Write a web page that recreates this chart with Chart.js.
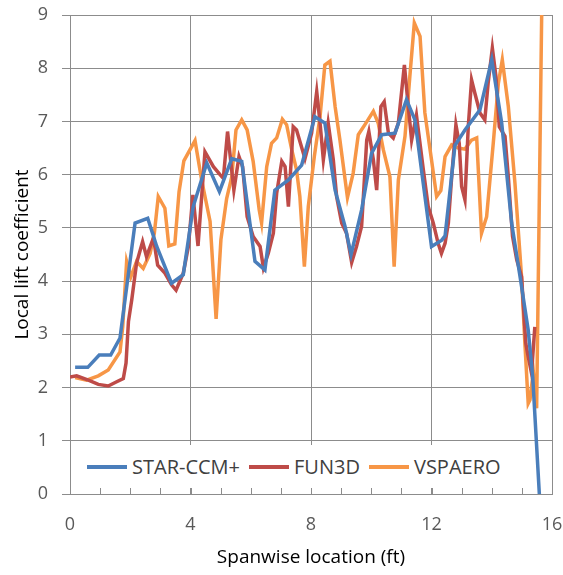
<!DOCTYPE html>
<html>
<head>
<meta charset="utf-8">
<script src="https://cdn.jsdelivr.net/npm/chart.js@4.4.1/dist/chart.umd.min.js"></script>
<style>
  html, body { margin: 0; padding: 0; background: #fff; }
  #wrap { position: relative; width: 563px; height: 575px; overflow: hidden; }
  #legend {
    position: absolute; left: 84px; top: 445px; width: 425px; height: 43px;
    background: #fff; display: flex; align-items: center; padding-left: 3px; box-sizing: border-box;
    font-family: "Open Sans", sans-serif; font-size: 20px; color: #404040; white-space: nowrap;
  }
  #legend .item { display: flex; align-items: center; margin-right: 9px; flex-shrink: 0; }
  #legend .swatch { width: 40px; height: 4px; margin-right: 5px; flex-shrink: 0; }
</style>
</head>
<body>
<div id="wrap">
  <canvas id="chart" width="563" height="575"></canvas>
  <div id="legend"></div>
</div>
<script>
// Datos (ft, coeficiente de sustentación local)
const starX = [0.17, 0.59, 0.97, 1.35, 1.66, 2.16, 2.58, 2.88, 3.37, 3.76, 4.09, 4.54, 4.96, 5.37, 5.70, 6.14, 6.47, 6.80, 7.25, 7.69, 8.13, 8.46, 8.80, 9.13, 9.33, 9.68, 10.01, 10.35, 10.79, 11.17, 11.45, 12.00, 12.34, 12.45, 12.78, 13.11, 13.61, 14.00, 14.33, 14.66, 14.94, 15.21, 15.36, 15.58];
const starY = [2.38, 2.38, 2.61, 2.61, 2.93, 5.09, 5.18, 4.65, 3.96, 4.12, 5.40, 6.22, 5.68, 6.30, 6.25, 4.37, 4.21, 5.71, 5.90, 6.18, 7.09, 6.97, 5.71, 5.03, 4.50, 5.34, 6.40, 6.75, 6.78, 7.41, 7.03, 4.65, 4.77, 4.85, 6.55, 6.84, 7.22, 8.16, 6.97, 5.09, 4.08, 3.08, 2.20, 0.00];

const fun3dX = [0.00, 0.22, 0.61, 0.94, 1.27, 1.55, 1.77, 1.86, 1.94, 2.05, 2.21, 2.41, 2.54, 2.77, 2.91, 3.15, 3.37, 3.52, 3.76, 3.93, 4.08, 4.25, 4.48, 4.76, 4.98, 5.09, 5.23, 5.44, 5.61, 5.73, 5.88, 6.08, 6.31, 6.42, 6.58, 6.75, 6.86, 7.03, 7.14, 7.25, 7.41, 7.52, 7.80, 8.02, 8.19, 8.30, 8.41, 8.57, 8.74, 8.85, 9.02, 9.18, 9.35, 9.51, 9.68, 9.85, 9.92, 10.07, 10.18, 10.32, 10.43, 10.57, 10.73, 10.90, 11.10, 11.23, 11.34, 11.50, 11.73, 11.89, 12.06, 12.22, 12.33, 12.45, 12.56, 12.67, 12.81, 12.92, 13.00, 13.11, 13.22, 13.33, 13.44, 13.61, 13.77, 13.88, 14.02, 14.14, 14.25, 14.44, 14.55, 14.69, 14.83, 14.99, 15.13, 15.19, 15.32, 15.43];
const fun3dY = [2.20, 2.22, 2.14, 2.06, 2.03, 2.11, 2.17, 2.46, 3.24, 3.65, 4.34, 4.74, 4.46, 4.81, 4.30, 4.15, 3.93, 3.83, 4.15, 4.65, 5.62, 4.66, 6.43, 6.15, 6.00, 5.93, 6.81, 5.71, 6.34, 6.15, 5.21, 4.84, 4.65, 4.25, 4.52, 4.90, 5.65, 6.25, 6.15, 5.40, 6.90, 6.84, 6.30, 6.78, 7.56, 6.97, 6.28, 6.97, 6.28, 5.59, 5.09, 4.90, 4.35, 4.65, 5.03, 6.65, 6.81, 6.28, 5.71, 7.28, 7.37, 6.78, 6.69, 6.97, 8.06, 7.28, 6.65, 7.12, 6.09, 5.40, 5.09, 4.71, 4.52, 4.71, 5.09, 5.96, 6.94, 6.59, 5.78, 5.53, 6.90, 7.78, 7.53, 7.16, 7.03, 7.72, 8.38, 7.84, 6.90, 6.72, 5.96, 4.84, 4.40, 4.08, 2.83, 2.64, 2.27, 3.14];

const vspX = [0.17, 0.55, 0.94, 1.27, 1.66, 1.75, 1.88, 2.02, 2.21, 2.43, 2.66, 2.80, 2.93, 3.15, 3.28, 3.48, 3.62, 3.78, 4.15, 4.37, 4.65, 4.85, 5.01, 5.20, 5.37, 5.51, 5.70, 5.88, 6.08, 6.28, 6.36, 6.53, 6.69, 6.86, 7.05, 7.19, 7.36, 7.52, 7.63, 7.78, 7.91, 8.11, 8.30, 8.46, 8.63, 8.80, 8.96, 9.21, 9.40, 9.57, 9.79, 10.07, 10.23, 10.40, 10.62, 10.76, 10.90, 11.12, 11.28, 11.43, 11.62, 11.78, 12.00, 12.17, 12.31, 12.45, 12.67, 12.89, 13.11, 13.33, 13.50, 13.66, 13.83, 14.05, 14.22, 14.35, 14.55, 14.77, 14.99, 15.10, 15.21, 15.27, 15.38, 15.49, 15.68];
const vspY = [2.19, 2.14, 2.22, 2.33, 2.67, 3.14, 4.37, 4.08, 4.37, 4.24, 4.52, 4.90, 5.59, 5.37, 4.66, 4.70, 5.68, 6.26, 6.64, 5.90, 5.12, 3.29, 4.78, 5.55, 5.96, 6.84, 7.03, 6.84, 6.25, 5.34, 5.09, 6.15, 6.59, 6.69, 7.04, 6.94, 6.47, 6.09, 5.59, 4.27, 5.40, 6.34, 7.09, 8.06, 8.13, 7.28, 6.65, 5.57, 6.03, 6.75, 6.94, 7.19, 6.97, 6.47, 5.96, 4.27, 5.90, 6.72, 7.84, 8.85, 8.60, 7.16, 6.28, 5.59, 5.70, 6.34, 6.56, 6.50, 6.48, 6.65, 6.69, 4.90, 5.21, 6.59, 7.72, 8.16, 7.28, 5.84, 4.08, 2.83, 1.70, 1.77, 2.30, 1.61, 10.00];

const seriesNames = ['STAR-CCM+', 'FUN3D', 'VSPAERO'];
const xTicks = [0, 4, 8, 12, 16];

const colores = ['#4a7ebb', '#be4b48', '#f79646'];
const gris = '#8c8c8c';
const fuente = '"Open Sans", sans-serif';

function puntos(xs, ys) {
  return xs.map((x, i) => ({ x: x, y: ys[i] }));
}

// Pequeñas marcas menores dentro del área, cada 1 ft
const marcasMenores = {
  id: 'marcasMenores',
  afterDatasetsDraw(chart) {
    const { ctx, chartArea, scales } = chart;
    ctx.save();
    ctx.strokeStyle = gris;
    ctx.lineWidth = 1;
    for (let v = 1; v < 16; v++) {
      const px = Math.round(scales.x.getPixelForValue(v)) + 0.5;
      ctx.beginPath();
      ctx.moveTo(px, chartArea.bottom);
      ctx.lineTo(px, chartArea.bottom - 6);
      ctx.stroke();
    }
    ctx.restore();
  }
};

const datos = [puntos(starX, starY), puntos(fun3dX, fun3dY), puntos(vspX, vspY)];

new Chart(document.getElementById('chart'), {
  type: 'scatter',
  data: {
    datasets: datos.map((d, i) => ({
      label: seriesNames[i],
      data: d,
      showLine: true,
      borderColor: colores[i],
      backgroundColor: colores[i],
      borderWidth: 3.5,
      pointRadius: 0,
      tension: 0,
      clip: 0
    }))
  },
  options: {
    responsive: false,
    animation: false,
    layout: { padding: { top: 15, right: 11, left: 0, bottom: 0 } },
    plugins: { legend: { display: false }, tooltip: { enabled: false } },
    scales: {
      x: {
        type: 'linear',
        min: 0, max: 16,
        afterFit(scale) {
          scale.height = 81;
          scale.paddingLeft = 0;
          scale.paddingRight = 0;
        },
        afterBuildTicks(scale) {
          scale.ticks = Array.from({ length: 17 }, (_, v) => ({ value: v }));
        },
        ticks: {
          autoSkip: false,
          maxRotation: 0,
          padding: 20,
          color: '#595959',
          font: { family: fuente, size: 18 },
          callback: v => (xTicks.includes(v) ? String(v) : '')
        },
        grid: {
          drawTicks: false,
          color: ctx => (ctx.tick && xTicks.includes(ctx.tick.value) ? gris : 'rgba(0,0,0,0)')
        },
        border: { color: gris },
        title: {
          display: true,
          text: 'Spanwise location (ft)',
          color: '#000',
          font: { family: fuente, size: 19 },
          padding: { top: 0, bottom: 6 }
        }
      },
      y: {
        min: 0, max: 9,
        afterFit(scale) {
          scale.width = 70;
          scale.paddingTop = 0;
          scale.paddingBottom = 0;
        },
        ticks: {
          stepSize: 1,
          padding: 14,
          color: '#595959',
          font: { family: fuente, size: 18 }
        },
        grid: { color: gris, tickLength: 8, tickColor: gris },
        border: { color: gris },
        title: {
          display: true,
          text: 'Local lift coefficient',
          color: '#000',
          font: { family: fuente, size: 19 },
          padding: { top: 11, bottom: 0 }
        }
      }
    }
  },
  plugins: [marcasMenores]
});

// Leyenda HTML dentro del área del gráfico
const leyenda = document.getElementById('legend');
seriesNames.forEach((nombre, i) => {
  const item = document.createElement('div');
  item.className = 'item';
  item.innerHTML = '<div class="swatch" style="background:' + colores[i] + '"></div><span>' + nombre + '</span>';
  leyenda.appendChild(item);
});
</script>
</body>
</html>
